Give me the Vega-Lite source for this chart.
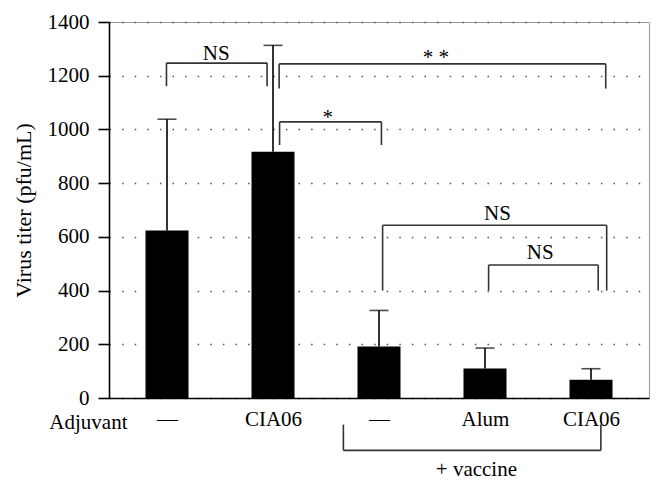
{
  "$schema": "https://vega.github.io/schema/vega-lite/v6.json",
  "width": 540,
  "height": 376,
  "autosize": {"type": "none"},
  "padding": {"left": 109, "top": 22, "right": 15, "bottom": 91},
  "background": "white",
  "config": {
    "view": {"stroke": "#999", "strokeWidth": 1},
    "font": "Liberation Serif",
    "axis": {"labelFont": "Liberation Serif", "titleFont": "Liberation Serif", "labelColor": "#000", "titleColor": "#000", "titleFontWeight": "normal"},
    "text": {"font": "Liberation Serif", "fontSize": 21, "color": "#000"}
  },
  "datasets": {
    "groups": [
      {"pos": 1, "adjuvant": "—", "vaccine": "no", "titer": 624, "upper": 1038},
      {"pos": 2, "adjuvant": "CIA06", "vaccine": "no", "titer": 917, "upper": 1313},
      {"pos": 3, "adjuvant": "—", "vaccine": "yes", "titer": 192, "upper": 326},
      {"pos": 4, "adjuvant": "Alum", "vaccine": "yes", "titer": 110, "upper": 186},
      {"pos": 5, "adjuvant": "CIA06", "vaccine": "yes", "titer": 68, "upper": 109}
    ],
    "brackets": [
      {"name": "NS 1 vs 2", "xa": 0.995, "xb": 1.944, "yh": 1247, "yl": 1161},
      {"name": "** 2 vs 5", "xa": 2.058, "xb": 5.139, "yh": 1244, "yl": 1152},
      {"name": "* 2 vs 3", "xa": 2.062, "xb": 3.023, "yh": 1028, "yl": 942},
      {"name": "NS 3 vs 5", "xa": 3.034, "xb": 5.148, "yh": 643, "yl": 400},
      {"name": "NS 4 vs 5", "xa": 4.034, "xb": 5.068, "yh": 495, "yl": 400},
      {"name": "+ vaccine", "xa": 2.664, "xb": 5.093, "yh": -195, "yl": -99}
    ],
    "labels": [
      {"text": "NS", "x": 1.465, "y": 1259},
      {"text": "* *", "x": 3.537, "y": 1242},
      {"text": "*", "x": 2.516, "y": 1021},
      {"text": "NS", "x": 4.118, "y": 662},
      {"text": "NS", "x": 4.521, "y": 517},
      {"text": "+ vaccine", "x": 3.919, "y": -291}
    ]
  },
  "layer": [
    {
      "data": {"name": "groups"},
      "mark": {"type": "bar", "orient": "vertical", "size": 43, "color": "#000"},
      "encoding": {
        "x": {
          "field": "pos", "type": "quantitative",
          "scale": {"domain": [0.5, 5.5], "nice": false, "zero": false},
          "axis": {
            "title": "Adjuvant",
            "titleFontSize": 21,
            "titleAnchor": "start",
            "titleAlign": "right",
            "titleBaseline": "alphabetic",
            "titleX": 18,
            "titleY": 30,
            "values": [1, 2, 3, 4, 5],
            "labelExpr": "['—','CIA06','—','Alum','CIA06'][datum.value - 1]",
            "labelFontSize": 21,
            "labelBaseline": "alphabetic",
            "labelPadding": 27,
            "ticks": false,
            "grid": false,
            "domainColor": "#000",
            "domainWidth": 1.6,
            "labelFlush": false,
            "labelOverlap": false
          }
        },
        "y": {
          "field": "titer", "type": "quantitative",
          "scale": {"domain": [0, 1400], "nice": false},
          "axis": {
            "title": "Virus titer (pfu/mL)",
            "titleFontSize": 22,
            "titleAngle": -90,
            "titleX": -86,
            "titleY": 188,
            "titleAlign": "center",
            "titleBaseline": "middle",
            "values": [0, 200, 400, 600, 800, 1000, 1200, 1400],
            "format": "d",
            "labelFontSize": 21,
            "labelPadding": 9,
            "tickSize": 11,
            "tickColor": "#000",
            "tickWidth": 1.6,
            "domainColor": "#000",
            "domainWidth": 1.6,
            "grid": true,
            "gridColor": "#555",
            "gridWidth": 1.4,
            "gridDash": [1.5, 11.1],
            "labelFlush": false
          }
        },
        "y2": {"datum": 0}
      }
    },
    {
      "mark": {"type": "rule", "color": "#333", "strokeWidth": 2},
      "encoding": {"y": {"datum": 1400, "type": "quantitative"}}
    },
    {
      "data": {"name": "groups"},
      "mark": {"type": "rule", "color": "#000", "strokeWidth": 1.6},
      "encoding": {
        "x": {"field": "pos", "type": "quantitative"},
        "y": {"field": "titer", "type": "quantitative"},
        "y2": {"field": "upper"}
      }
    },
    {
      "data": {"name": "groups"},
      "mark": {"type": "tick", "orient": "horizontal", "color": "#000", "size": 19, "thickness": 1.6},
      "encoding": {
        "x": {"field": "pos", "type": "quantitative"},
        "y": {"field": "upper", "type": "quantitative"}
      }
    },
    {
      "data": {"name": "brackets"},
      "mark": {"type": "rule", "color": "#333", "strokeWidth": 1.6},
      "encoding": {
        "x": {"field": "xa", "type": "quantitative"},
        "x2": {"field": "xb"},
        "y": {"field": "yh", "type": "quantitative"}
      }
    },
    {
      "data": {"name": "brackets"},
      "mark": {"type": "rule", "color": "#333", "strokeWidth": 1.6},
      "encoding": {
        "x": {"field": "xa", "type": "quantitative"},
        "y": {"field": "yh", "type": "quantitative"},
        "y2": {"field": "yl"}
      }
    },
    {
      "data": {"name": "brackets"},
      "mark": {"type": "rule", "color": "#333", "strokeWidth": 1.6},
      "encoding": {
        "x": {"field": "xb", "type": "quantitative"},
        "y": {"field": "yh", "type": "quantitative"},
        "y2": {"field": "yl"}
      }
    },
    {
      "data": {"name": "labels"},
      "mark": {"type": "text", "baseline": "alphabetic", "align": "center", "fontSize": 21},
      "encoding": {
        "x": {"field": "x", "type": "quantitative"},
        "y": {"field": "y", "type": "quantitative"},
        "text": {"field": "text"}
      }
    }
  ]
}
